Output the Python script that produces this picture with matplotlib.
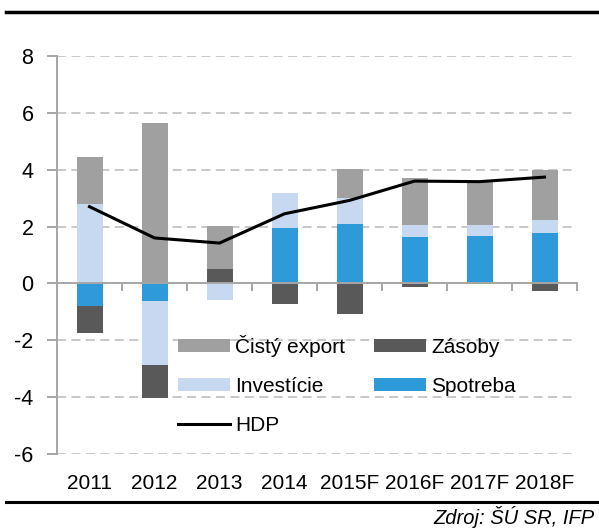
import matplotlib.pyplot as plt
import matplotlib.lines as mlines
from matplotlib.transforms import blended_transform_factory
import numpy as np

plt.rcParams['font.family'] = ['Liberation Sans', 'DejaVu Sans']
plt.rcParams['axes.unicode_minus'] = False

roky = ["2011", "2012", "2013", "2014", "2015F", "2016F", "2017F", "2018F"]
spotreba = [-0.80, -0.61, 0.02, 1.96, 2.10, 1.64, 1.68, 1.78]
investicie = [2.80, -2.27, -0.57, 1.22, 0.92, 0.40, 0.38, 0.45]
zasoby = [-0.95, -1.16, 0.50, -0.71, -1.06, -0.13, -0.03, -0.27]
cisty_export = [1.65, 5.65, 1.50, 0.00, 1.00, 1.68, 1.50, 1.77]
hdp = [2.7, 1.6, 1.42, 2.45, 2.92, 3.6, 3.58, 3.74]

serie = [("Spotreba", spotreba, "#2e9ad9"),
         ("Investície", investicie, "#c6d9f1"),
         ("Zásoby", zasoby, "#595959"),
         ("Čistý export", cisty_export, "#a0a0a0")]

fig = plt.figure(figsize=(5.99, 5.29), dpi=100)
ax = fig.add_axes([57/599, 1-454/529, 520/599, 398/529])

x = np.arange(len(roky))
pos = np.zeros(len(roky))
neg = np.zeros(len(roky))
uchwyty = {}
for nazwa, vals, kol in serie:
    v = np.array(vals)
    dol = np.where(v >= 0, pos, neg)
    b = ax.bar(x, v, 0.4, bottom=dol, color=kol, label=nazwa, zorder=3)
    uchwyty[nazwa] = b
    pos = pos + np.where(v >= 0, v, 0)
    neg = neg + np.where(v < 0, v, 0)

linia, = ax.plot(x, hdp, color="black", lw=2.2, zorder=4, label="HDP")

ax.set_xlim(-0.5, len(roky) - 0.5)
ax.set_ylim(-6, 8)
ax.set_yticks(np.arange(-6, 9, 2))
for yy in np.arange(-6, 9, 2):
    if yy != 0:
        ax.axhline(yy, color="#c4c4c4", lw=1.3, ls=(0, (5, 3)), zorder=1)

for s in ["top", "right"]:
    ax.spines[s].set_visible(False)
ax.spines["bottom"].set_position(("data", 0))
ax.spines["bottom"].set_color("#a6a6a6")
ax.spines["bottom"].set_linewidth(1.4)
ax.spines["bottom"].set_zorder(5)
ax.spines["left"].set_color("#a6a6a6")
ax.spines["left"].set_linewidth(1.4)

ax.set_xticks(np.arange(-0.5, len(roky), 1))
ax.set_xticklabels([])
ax.tick_params(axis="x", direction="out", length=6, width=1.4, color="#a6a6a6")
ax.tick_params(axis="y", direction="out", length=7, width=1.4, color="#a6a6a6",
               labelsize=15.5, pad=10)

tr = blended_transform_factory(ax.transData, ax.transAxes)
for i, r in enumerate(roky):
    ax.text(i, -0.075, r, transform=tr, ha="center", va="center", fontsize=15)

h = [uchwyty["Čistý export"], uchwyty["Investície"], linia,
     uchwyty["Zásoby"], uchwyty["Spotreba"]]
l = ["Čistý export", "Investície", "HDP", "Zásoby", "Spotreba"]
ax.legend(h, l, ncol=2, loc="upper left", bbox_to_anchor=(0.232, 0.3),
          frameon=False, fontsize=15, handlelength=2.5, handleheight=0.6,
          handletextpad=0.25, columnspacing=1.4, labelspacing=0.98,
          borderpad=0, borderaxespad=0)

fig.add_artist(mlines.Line2D([6/599, 1], [1-12/529, 1-12/529], color="black", lw=2.5))
fig.add_artist(mlines.Line2D([6/599, 1], [1-502/529, 1-502/529], color="black", lw=2.2))
fig.text(595/599, 1-517/529, "Zdroj: ŠÚ SR, IFP", ha="right", va="center",
         fontsize=14.5, style="italic")

fig.savefig("out.png", dpi=100)
